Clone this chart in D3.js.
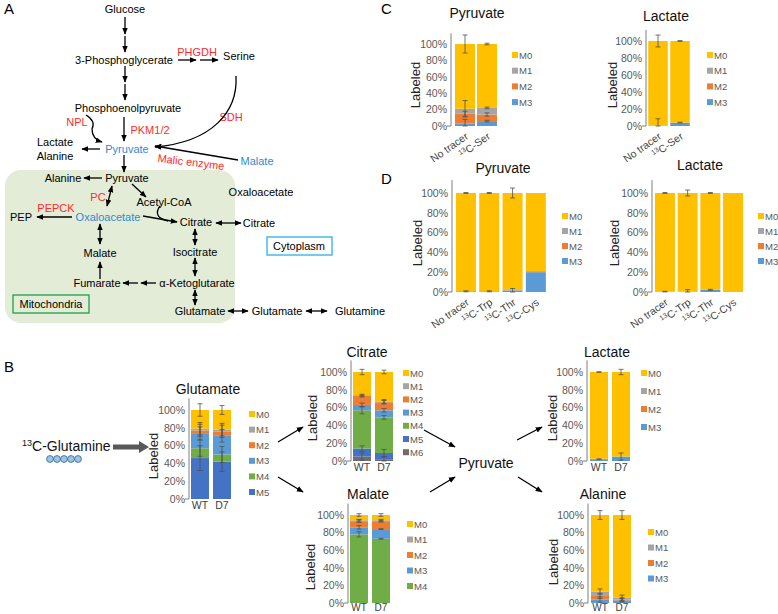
<!DOCTYPE html>
<html><head><meta charset="utf-8">
<script src="https://cdn.jsdelivr.net/npm/d3@7"></script>
<style>body{margin:0;background:#fff} svg{display:block;font-family:"Liberation Sans",Arial,sans-serif}</style>
</head><body><svg id="fig" width="778" height="614"></svg>
<script>
// ---------- DATA ----------
const isoLabels = ["M0","M1","M2","M3","M4","M5","M6"];
const isoColors = ["#FFC000","#A5A5A5","#ED7D31","#5B9BD5","#70AD47","#4472C4","#6E6E6E"];

// Panel C (series M0..M3, values per category, %)
const cTracers = ["No tracer","13C-Ser"];
const cPyruvateValues = [[79,78],[6,8],[12,8],[3,6]];
const cPyruvateErrors = [[11,1],[10,1],[3,2],[5,1]];
const cLactateValues = [[99.5,96],[0,0],[0,0],[0.5,4]];
const cLactateErrors = [[7,0.5],[0,0],[0,0],[8,0.5]];

// Panel D
const dTracers = ["No tracer","13C-Trp","13C-Thr","13C-Cys"];
const dPyruvateValues = [[99.3,99.3,98,79],[0,0,0.5,0],[0,0,0,1],[0.7,0.7,1.5,20]];
const dPyruvateErrors = [[0.5,0.5,5,0],[0,0,0,0],[0,0,0,0],[0.5,0.5,2,0]];
const dLactateValues = [[99.6,99.6,97.8,100],[0,0,0,0],[0,0,0,0],[0.4,0.4,2.2,0]];
const dLactateErrors = [[0.5,3,0.5,0],[0,0,0,0],[0,0,0,0],[0.3,2,0.5,0]];

// Panel B
const bGroups = ["WT","D7"];
const glutamateValues = [[21,22],[2,2],[3,5],[17,21],[11,8],[46,42]];
const glutamateErrors = [[7,5],[7,7],[7,7],[7,7],[9,9],[14,11]];
const citrateValues = [[26,33],[1,1],[10,9],[6,8],[43,40],[9,7],[5,2]];
const citrateErrors = [[3,2],[1,2],[1,2],[2,2],[4,2],[3,4],[4,3]];
const malateValues = [[6,6],[1,1],[7,9],[8,11],[78,73]];
const malateErrors = [[1.5,1.5],[1,1],[1.5,1],[2,0.5],[3,0.5]];
const lactateBValues = [[97.5,95],[0.2,0],[0.3,0],[2,5]];
const lactateBErrors = [[0.3,3],[0,0],[0,0],[0.5,4]];
const alanineValues = [[87,94],[5,2],[4,1],[4,3]];
const alanineErrors = [[5,5],[3,3],[3,2],[3,2]];
const yTicks = [0,20,40,60,80,100];

// ---------- SETUP ----------
const svg = d3.select("#fig");
const defs = svg.append("defs");
defs.append("marker").attr("id","ah").attr("viewBox","0 0 10 10").attr("refX",9).attr("refY",5)
  .attr("markerWidth",7).attr("markerHeight",7).attr("markerUnits","userSpaceOnUse")
  .attr("orient","auto-start-reverse")
  .append("path").attr("d","M0,1 L10,5 L0,9 z").attr("fill","#000");

function addLabelText(sel, label, supSize, shift){
  if(label.startsWith("13C")){
    sel.append("tspan").attr("font-size",supSize).attr("dy",-shift).text("13");
    sel.append("tspan").attr("dy",shift).text(label.slice(2));
  } else sel.text(label);
}

function drawChart(cfg, cats, values, errors){
  const g = svg.append("g");
  const n = cats.length;
  const pi = 1 - cfg.bw/cfg.step;
  const x = d3.scaleBand().domain(cats).range([cfg.left, cfg.left + n*cfg.step])
    .paddingInner(pi).paddingOuter(pi/2);
  const y = d3.scaleLinear().domain([0,100]).range([cfg.y0, cfg.y100]);
  const rows = cats.map((c,i)=>{const r={cat:c}; values.forEach((s,k)=>r["M"+k]=s[i]); return r;});
  const keys = values.map((_,k)=>"M"+k).reverse();
  const series = d3.stack().keys(keys)(rows);
  series.forEach(s=>{
    const k = +s.key.slice(1);
    g.selectAll(null).data(s).enter().append("rect")
      .attr("x", d=>x(d.data.cat)).attr("width", x.bandwidth())
      .attr("y", d=>y(d[1])).attr("height", d=>Math.max(0,y(d[0])-y(d[1])))
      .attr("fill", isoColors[k]);
  });
  // error bars
  series.forEach(s=>{
    const k = +s.key.slice(1);
    s.forEach((d,i)=>{
      const e = errors[k][i];
      if(!e) return;
      const cx = x(d.data.cat) + x.bandwidth()/2;
      const top = d[1];
      const ya = y(Math.min(top+e, 112)), yb = y(Math.max(top-e, 0));
      g.append("line").attr("x1",cx).attr("x2",cx).attr("y1",ya).attr("y2",yb)
        .attr("stroke","#505050").attr("stroke-width",0.8);
      [ya,yb].forEach(yy=>g.append("line").attr("x1",cx-2.5).attr("x2",cx+2.5).attr("y1",yy).attr("y2",yy)
        .attr("stroke","#505050").attr("stroke-width",0.8));
    });
  });
  // axis
  const ax = g.append("g").attr("transform",`translate(${cfg.axisX},0)`)
    .call(d3.axisLeft(y).tickValues(yTicks).tickFormat(d=>d+"%").tickSize(0).tickPadding(4));
  ax.select(".domain").remove();
  ax.selectAll("text").attr("font-size",10.5).attr("fill","#595959").attr("font-family","Liberation Sans, Arial, sans-serif");
  g.append("line").attr("x1",cfg.axisX).attr("x2",cfg.axisX).attr("y1",y(0)).attr("y2",y(113))
    .attr("stroke","#7f7f7f").attr("stroke-width",1);
  g.append("line").attr("x1",cfg.axisX-4).attr("x2",cfg.axisX).attr("y1",y(0)).attr("y2",y(0))
    .attr("stroke","#7f7f7f").attr("stroke-width",1);
  // x labels
  cats.forEach(c=>{
    const cx = x(c) + x.bandwidth()/2;
    if(cfg.rot){
      const t = g.append("text").attr("transform",`translate(${cx+4},${cfg.y0+12}) rotate(-35)`)
        .attr("text-anchor","end").attr("font-size",10.5).attr("fill","#404040");
      addLabelText(t, c, 7, 3.5);
    } else {
      g.append("text").attr("x",cx).attr("y",cfg.y0+(cfg.xdy||6)).attr("text-anchor","middle")
        .attr("dominant-baseline","central").attr("font-size",cfg.xfs||10.5).attr("fill","#404040").text(c);
    }
  });
  // title
  g.append("text").attr("x",cfg.title[0]).attr("y",cfg.title[1]).attr("text-anchor","middle")
    .attr("font-size",14).attr("fill","#111").text(cfg.name);
  // Labeled
  g.append("text").attr("transform",`translate(${cfg.lab[0]},${cfg.lab[1]}) rotate(-90)`)
    .attr("text-anchor","middle").attr("dominant-baseline","central").attr("font-size",13).attr("fill","#222").text("Labeled");
  // legend
  values.forEach((_,k)=>{
    const ly = cfg.leg[1] + k*cfg.leg[2];
    g.append("rect").attr("x",cfg.leg[0]).attr("y",ly-3).attr("width",6).attr("height",6).attr("fill",isoColors[k]);
    g.append("text").attr("x",cfg.leg[0]+7).attr("y",ly).attr("dominant-baseline","central")
      .attr("font-size",9.5).attr("fill","#595959").text(isoLabels[k]);
  });
}

// ---------- PANEL A (pathway) ----------
svg.append("rect").attr("x",5).attr("y",170).attr("width",230).attr("height",153).attr("rx",16)
  .attr("fill","#e2ecd7");

const red = "#ff2a2a", blue = "#2e8bd1";
const nodes = [
  ["Glucose",125,9,"#000"],["3-Phosphoglycerate",124,60,"#000"],["PHGDH",197,52,red],["Serine",239,56,"#000"],
  ["Phosphoenolpyruvate",128,108,"#000"],["NPL",77,122,red],["PKM1/2",150,130,red],
  ["Lactate",55,142,"#000"],["Alanine",55,156,"#000"],["Pyruvate",127,149,blue],["SDH",231,117,red],
  ["Malate",257,161,blue],["Alanine",63,178,"#000"],["Pyruvate",127,178,"#000"],["PC",98,197,red],
  ["Acetyl-CoA",164,202,"#000"],["Oxaloacetate",261,192,"#000"],["PEPCK",56,208,red],["PEP",21,217,"#000"],
  ["Oxaloacetate",108,217,blue],["Citrate",196,222,"#000"],["Citrate",259,223,"#000"],
  ["Isocitrate",195,252,"#000"],["Malate",100,253,"#000"],["Fumarate",97,283,"#000"],
  ["α-Ketoglutarate",197,283,"#000"],["Glutamate",200,311,"#000"],["Glutamate",277,311,"#000"],
  ["Glutamine",360,311,"#000"],["Cytoplasm",299,246,"#000"],["Mitochondria",51,304,"#000"]
];
nodes.forEach(([t,x,y,c])=>svg.append("text").attr("x",x).attr("y",y).attr("text-anchor","middle")
  .attr("dominant-baseline","central").attr("font-size",11).attr("fill",c).text(t));
svg.append("text").attr("transform","translate(191,162) rotate(7)").attr("text-anchor","middle")
  .attr("dominant-baseline","central").attr("font-size",11).attr("fill",red).text("Malic enzyme");
svg.append("rect").attr("x",267).attr("y",237).attr("width",65).attr("height",18).attr("fill","none")
  .attr("stroke","#2ab0e8").attr("stroke-width",1.3);
svg.append("rect").attr("x",13).attr("y",295).attr("width",76).attr("height",18).attr("fill","none")
  .attr("stroke","#22a04a").attr("stroke-width",1.3);

const arrows = [
  [125,17,125,34,"e"],[125,36,125,52,"e"],[125,66,125,82,"e"],[125,84,125,100,"e"],
  [178,60,196,60,"e"],[200,60,218,60,"e"],[124,117,124,141,"e"],[100,149,82,149,"e"],
  [238,160,155,146,"e"],[124,155,124,172,"e"],[102,178,84,178,"e"],[112,186,107,206,"b"],
  [132,184,146,197,"e"],[72,217,37,217,"e"],[143,216,177,222,"e"],[216,223,241,223,"b"],
  [195,229,195,245,"b"],[100,224,100,244,"b"],[100,279,100,262,"e"],[138,283,123,283,"e"],
  [156,283,141,283,"e"],[195,258,195,276,"b"],[195,290,195,305,"b"],[228,311,248,311,"b"],
  [306,311,327,311,"b"]
];
arrows.forEach(([x1,y1,x2,y2,t])=>{
  const l = svg.append("line").attr("x1",x1).attr("y1",y1).attr("x2",x2).attr("y2",y2)
    .attr("stroke","#000").attr("stroke-width",1.3).attr("marker-end","url(#ah)");
  if(t==="b") l.attr("marker-start","url(#ah)");
});
const curves = ["M236,76 C238,112 212,142 155,147","M86,115 Q96,121 92,129 Q92,139 102,142","M160,206 Q152,217 168,221"];
curves.forEach((d,i)=>{
  const p = svg.append("path").attr("d",d).attr("fill","none").attr("stroke","#000").attr("stroke-width",1.3);
  if(i<2) p.attr("marker-end","url(#ah)");
});

// panel letters
[["A",4,14],["B",4,372],["C",381,14],["D",381,184]].forEach(([t,x,y])=>
  svg.append("text").attr("x",x).attr("y",y).attr("font-size",15).attr("fill","#000").text(t));

// ---------- PANEL B extras ----------
const gq = svg.append("text").attr("x",22).attr("y",451).attr("font-size",14).attr("fill","#111");
gq.append("tspan").attr("font-size",9).attr("dy",-5).text("13");
gq.append("tspan").attr("dy",5).text("C-Glutamine");
[50,57,64,71,78].forEach(cx=>svg.append("circle").attr("cx",cx).attr("cy",459).attr("r",3.4)
  .attr("fill","#9dc3e6").attr("stroke","#41719c").attr("stroke-width",0.9));
svg.append("path").attr("d","M113,444.5 L139,444.5 L139,441 L149,447 L139,453 L139,449.5 L113,449.5 Z").attr("fill","#595959");
svg.append("text").attr("x",486).attr("y",463).attr("text-anchor","middle").attr("dominant-baseline","central")
  .attr("font-size",14).attr("fill","#111").text("Pyruvate");
[[278,442,303,427],[278,477,303,492],[424,430,455,447],[430,492,455,477],[517,440,542,427],[518,477,542,492]]
 .forEach(([x1,y1,x2,y2])=>svg.append("line").attr("x1",x1).attr("y1",y1).attr("x2",x2).attr("y2",y2)
   .attr("stroke","#000").attr("stroke-width",1.3).attr("marker-end","url(#ah)"));

// ---------- CHARTS ----------
drawChart({name:"Pyruvate",left:454,step:22,bw:20,y0:126,y100:44,axisX:451,title:[477,18],lab:[415,85],leg:[512,55,15.7],rot:true},
  cTracers,cPyruvateValues,cPyruvateErrors);
drawChart({name:"Lactate",left:647,step:22,bw:19.5,y0:126,y100:41,axisX:646,title:[666,21],lab:[612,85],leg:[707,55,15.7],rot:true},
  cTracers,cLactateValues,cLactateErrors);
drawChart({name:"Pyruvate",left:454.3,step:23.3,bw:20,y0:292,y100:193,axisX:452,title:[503,173],lab:[417,243],leg:[562,216,15],rot:true},
  dTracers,dPyruvateValues,dPyruvateErrors);
drawChart({name:"Lactate",left:653.6,step:22.7,bw:20,y0:292,y100:193,axisX:652,title:[700,170],lab:[614,243],leg:[758,216,15],rot:true},
  dTracers,dLactateValues,dLactateErrors);
drawChart({name:"Glutamate",left:189,step:22,bw:18,y0:499,y100:410,axisX:189,title:[208,394],lab:[153,456],leg:[249,414,15.6]},
  bGroups,glutamateValues,glutamateErrors);
drawChart({name:"Citrate",left:351,step:22,bw:18,y0:461,y100:372,axisX:351,title:[367,357],lab:[312,418],leg:[403,373,13.2]},
  bGroups,citrateValues,citrateErrors);
drawChart({name:"Malate",left:348,step:22,bw:18,y0:603,y100:515,axisX:348,title:[368,499],lab:[310,567],leg:[407,524,15.5],xdy:4.5,xfs:10},
  bGroups,malateValues,malateErrors);
drawChart({name:"Lactate",left:588,step:22,bw:18,y0:461,y100:372,axisX:587,title:[607,357],lab:[552,418],leg:[641,373,18]},
  bGroups,lactateBValues,lactateBErrors);
drawChart({name:"Alanine",left:589,step:22,bw:18,y0:603,y100:515,axisX:588,title:[603,499],lab:[553,562],leg:[648,532,15.5],xdy:4.5,xfs:10},
  bGroups,alanineValues,alanineErrors);
</script></body></html>
